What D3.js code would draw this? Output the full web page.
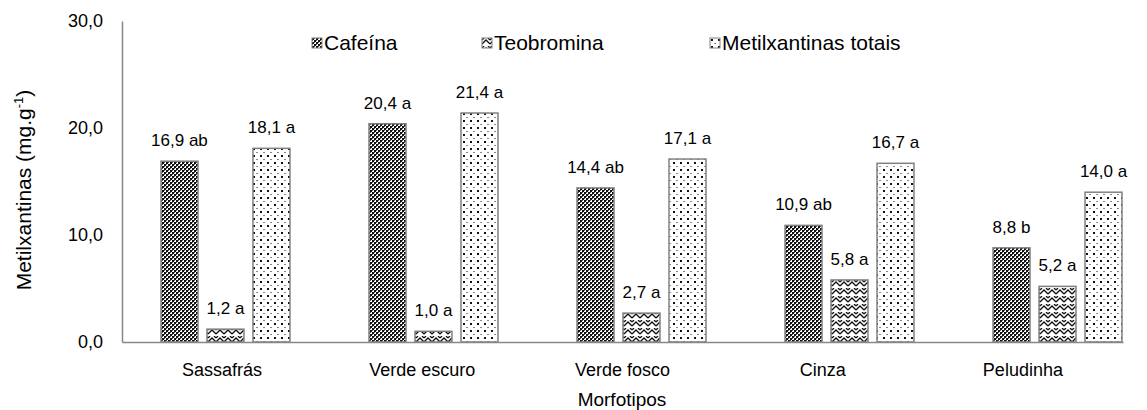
<!DOCTYPE html>
<html><head><meta charset="utf-8">
<script src="https://cdn.jsdelivr.net/npm/d3@7"></script>
<style>body{margin:0;background:#fff}svg{display:block;font-family:"Liberation Sans",Arial,sans-serif}</style>
</head><body>
<svg id="c" width="1147" height="410"></svg>
<script>
const categories = ["Sassafrás","Verde escuro","Verde fosco","Cinza","Peludinha"];
const seriesNames = ["Cafeína","Teobromina","Metilxantinas totais"];
const cafeina = [16.9,20.4,14.4,10.9,8.8];
const teobromina = [1.2,1.0,2.7,5.8,5.2];
const metilxantinas = [18.1,21.4,17.1,16.7,14.0];
const lettersCafeina = ["ab","a","ab","ab","b"];
const lettersTeobromina = ["a","a","a","a","a"];
const lettersMetil = ["a","a","a","a","a"];
const yTicks = [0,10,20,30];

(function(){
const svg = d3.select("#c");
const defs = svg.append("defs");
const p1 = defs.append("pattern").attr("id","pCaf").attr("width",4).attr("height",4).attr("patternUnits","userSpaceOnUse");
p1.append("rect").attr("width",4).attr("height",4).attr("fill","#fff");
p1.append("rect").attr("x",0).attr("y",0).attr("width",2).attr("height",2).attr("fill","#111");
p1.append("rect").attr("x",2).attr("y",2).attr("width",2).attr("height",2).attr("fill","#111");
p1.append("rect").attr("x",2).attr("y",0).attr("width",1).attr("height",1).attr("fill","#555");
p1.append("rect").attr("x",0).attr("y",2).attr("width",1).attr("height",1).attr("fill","#555");
const p2 = defs.append("pattern").attr("id","pTeo").attr("width",8).attr("height",8).attr("patternUnits","userSpaceOnUse");
p2.append("rect").attr("width",8).attr("height",8).attr("fill","#fff");
p2.append("path").attr("d","M0,6 L4,2 L8,6 M0,2 L2,0 M6,0 L8,2 M-1,9 L0,8 M8,8 L9,9").attr("stroke","#111").attr("stroke-width",1.3).attr("fill","none");
const p3 = defs.append("pattern").attr("id","pMet").attr("width",14).attr("height",14).attr("patternUnits","userSpaceOnUse");
p3.append("rect").attr("width",14).attr("height",14).attr("fill","#fff");
[[1,1,2],[8,1,2],[4.5,5,1],[11.5,5,1],[1,8,2],[8,8,2],[4.5,12,1],[11.5,12,1]].forEach(d=>{
  p3.append("rect").attr("x",d[0]).attr("y",d[1]).attr("width",d[2]).attr("height",d[2]).attr("fill","#111");
});
const fills = ["url(#pCaf)","url(#pTeo)","url(#pMet)"];

const mLeft = 122, mRight = 1123, mTop = 21, mBottom = 342;
const y = d3.scaleLinear().domain([0,30]).range([mBottom, mTop]);
const xLab = d3.scaleBand().domain(categories).range([mLeft, mRight]);
const xGrp = d3.scaleBand().domain(categories).range([161, 1122]).paddingInner(0.38).paddingOuter(0);
const xSer = d3.scaleBand().domain(seriesNames).range([0, xGrp.bandwidth()]).paddingInner(0.196);

const series = [cafeina, teobromina, metilxantinas];
const letters = [lettersCafeina, lettersTeobromina, lettersMetil];
const fmt = v => v.toFixed(1).replace(".", ",");

const rows = [];
categories.forEach((c,i)=>seriesNames.forEach((s,j)=>rows.push({c,s,j,v:series[j][i],l:letters[j][i]})));

svg.append("g").selectAll("rect").data(rows).join("rect")
  .attr("x", d=>xGrp(d.c)+xSer(d.s))
  .attr("y", d=>y(d.v))
  .attr("width", xSer.bandwidth())
  .attr("height", d=>mBottom - y(d.v))
  .attr("fill", d=>fills[d.j])
  .attr("stroke", "#808080").attr("stroke-width", 1.5);

svg.append("g").selectAll("text").data(rows).join("text")
  .attr("x", d=>xGrp(d.c)+xSer(d.s)+xSer.bandwidth()/2)
  .attr("y", d=>y(d.v)-15)
  .attr("text-anchor","middle").attr("font-size",17).attr("fill","#000")
  .text(d=>fmt(d.v)+" "+d.l);

const yAxis = svg.append("g").attr("transform",`translate(${mLeft},0)`)
  .call(d3.axisLeft(y).tickValues(yTicks).tickSize(0).tickPadding(19).tickFormat(fmt));
yAxis.select(".domain").attr("stroke","#888").attr("stroke-width",1.5);
yAxis.selectAll("text").attr("font-size",18).attr("fill","#000").attr("font-family","Liberation Sans, Arial, sans-serif");

const xAxis = svg.append("g").attr("transform",`translate(0,${mBottom})`)
  .call(d3.axisBottom(xLab).tickSize(0).tickPadding(21));
xAxis.select(".domain").attr("stroke","#888").attr("stroke-width",1.5);
xAxis.selectAll("text").attr("font-size",18).attr("fill","#000").attr("font-family","Liberation Sans, Arial, sans-serif");

const yt = svg.append("text").attr("transform","translate(31,190) rotate(-90)")
  .attr("text-anchor","middle").attr("font-size",21).attr("fill","#000");
yt.append("tspan").text("Metilxantinas (mg.g");
yt.append("tspan").attr("font-size",13).attr("dy",-8).text("-1");
yt.append("tspan").attr("dy",8).text(")");

svg.append("text").attr("x",622).attr("y",406).attr("text-anchor","middle")
  .attr("font-size",19).attr("fill","#000").text("Morfotipos");

const legX = [312, 482, 710];
const lg = svg.append("g").selectAll("g").data(seriesNames).join("g")
  .attr("transform",(d,i)=>`translate(${legX[i]},38)`);
lg.append("rect").attr("width",10).attr("height",10).attr("fill",(d,i)=>fills[i]).attr("stroke","#808080").attr("stroke-width",1);
lg.append("text").attr("x",12).attr("y",12).attr("font-size",21).attr("fill","#000").text(d=>d);
})();
</script>
</body></html>
